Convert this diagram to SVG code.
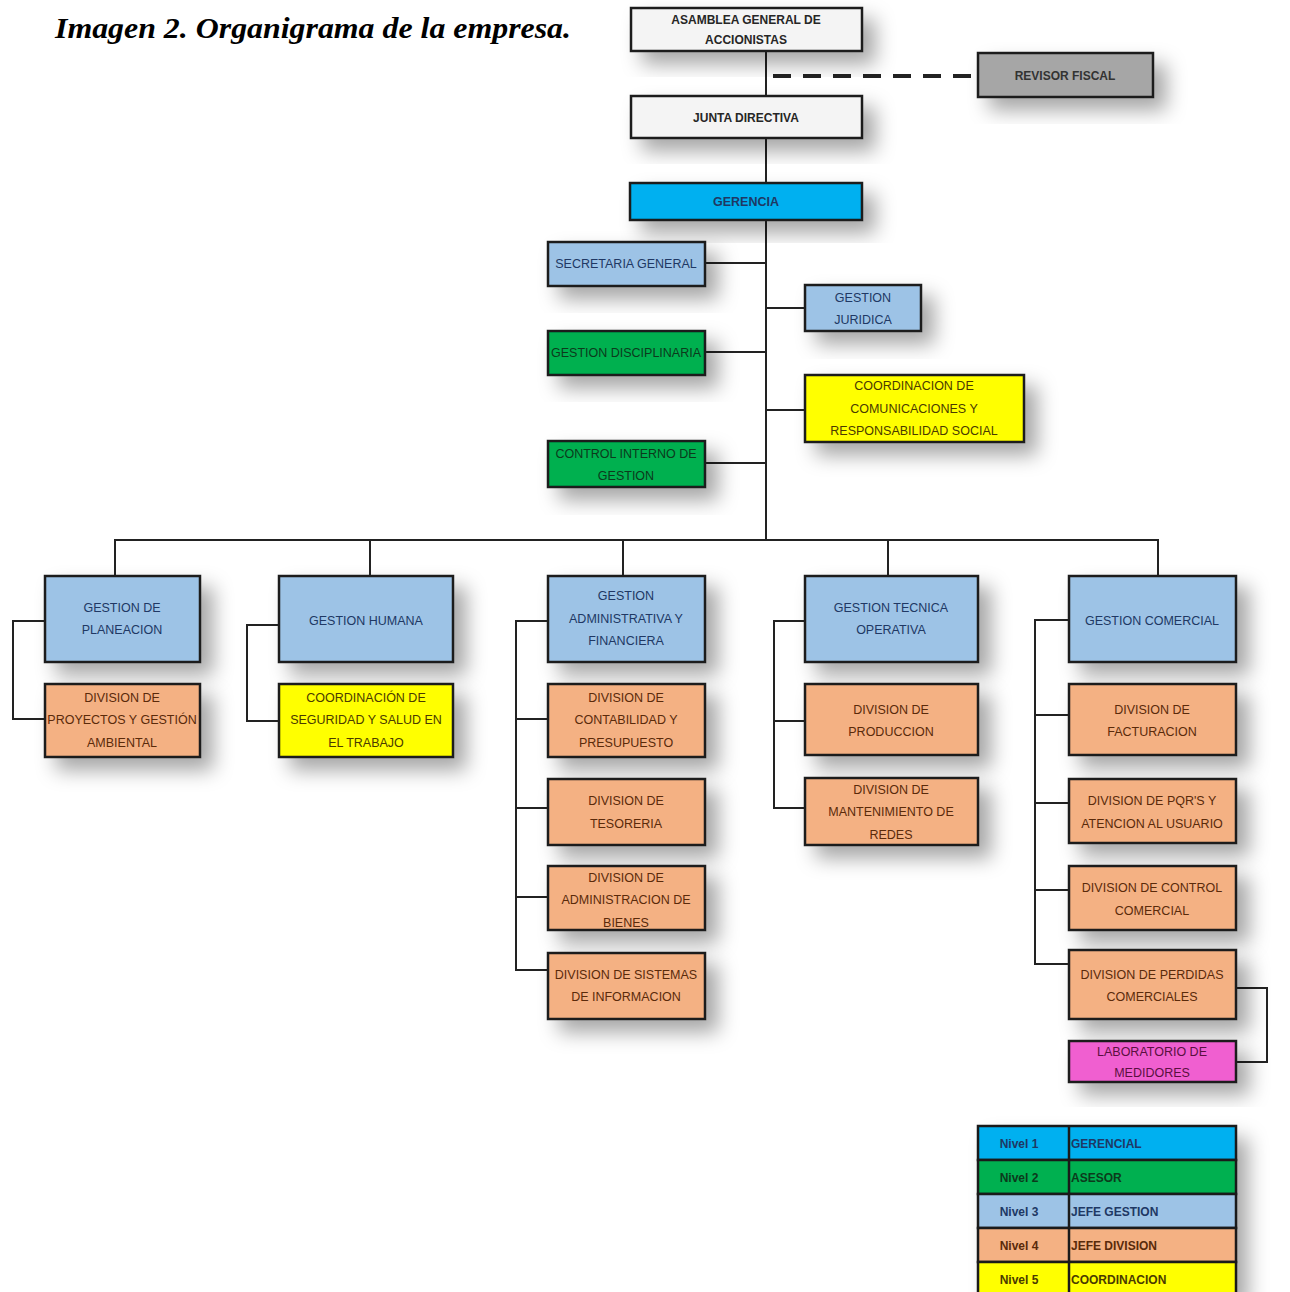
<svg xmlns="http://www.w3.org/2000/svg" width="1290" height="1292" viewBox="0 0 1290 1292">
<defs>
<filter id="sh" x="-30%" y="-40%" width="170%" height="200%">
<feDropShadow dx="12" dy="12" stdDeviation="10" flood-color="#000" flood-opacity="0.35"/>
</filter>
<style>
.b{stroke:#1a1a1a;stroke-width:2.5;filter:url(#sh)}
.w{fill:#f4f4f4}.g{fill:#a6a6a6}.n1{fill:#00b0f0}.n2{fill:#00b050}.n3{fill:#9dc3e6}.n4{fill:#f4b183}.n5{fill:#ffff00}.m{fill:#f05fd0}
text{font-family:"Liberation Sans",Arial,sans-serif;font-size:12.5px;text-anchor:middle}
.tw{fill:#262626;font-weight:bold;font-size:12px}
.t1{fill:#1f3864;font-weight:bold}
.t2{fill:#0c3a1c}
.t3{fill:#203864}
.t4{fill:#5a2a0a}
.t5{fill:#4a3a00}
.tm{fill:#5a1040}
.c{stroke:#222;stroke-width:2;fill:none}
.lg text{font-weight:bold;font-size:12px}
</style>
</defs>
<rect width="1290" height="1292" fill="#fff"/>
<text x="55" y="38" textLength="516" lengthAdjust="spacingAndGlyphs" style="text-anchor:start;font-family:'Liberation Serif','Times New Roman',serif;font-size:30px;font-weight:bold;font-style:italic;fill:#000">Imagen 2. Organigrama de la empresa.</text>

<rect x="920" y="51" width="58" height="46" fill="#fff"/>
<rect x="1236" y="576" width="50" height="86" fill="#fff"/>

<g id="connectors">
<path class="c" d="M766 51V540"/>
<path class="c" d="M773 76H978" stroke-dasharray="18 12" style="stroke-width:4"/>
<path class="c" d="M705 263H766M766 308H805M705 352H766M766 410H805M705 463H766"/>
<path class="c" d="M115 576V540H1158V576M370 540V576M623 540V576M888 540V576"/>
<path class="c" d="M45 621H13V719H45"/>
<path class="c" d="M279 625H247V721H279"/>
<path class="c" d="M548 621H516V970H548M516 719H548M516 808H548M516 897H548"/>
<path class="c" d="M805 621H774V808H805M774 721H805"/>
<path class="c" d="M1069 620H1035V964H1069M1035 715H1069M1035 803H1069M1035 890H1069"/>
<path class="c" d="M1236 988H1267V1062H1236"/>
</g>

<g id="asamblea"><rect class="b w" x="631" y="8" width="231" height="43"/><text class="tw" x="746" y="24">ASAMBLEA GENERAL DE</text><text class="tw" x="746" y="44">ACCIONISTAS</text></g>
<g id="revisor"><rect class="b g" x="978" y="53" width="175" height="44"/><text class="tw" x="1065" y="80" style="fill:#333">REVISOR FISCAL</text></g>
<g id="junta"><rect class="b w" x="631" y="96" width="231" height="42"/><text class="tw" x="746" y="122">JUNTA DIRECTIVA</text></g>
<g id="gerencia"><rect class="b n1" x="630" y="183" width="232" height="37"/><text class="t1" x="746" y="206">GERENCIA</text></g>

<g id="secretaria"><rect class="b n3" x="548" y="242" width="157" height="44"/><text class="t3" x="626" y="268">SECRETARIA GENERAL</text></g>
<g id="juridica"><rect class="b n3" x="805" y="285" width="116" height="46"/><text class="t3" x="863" y="302">GESTION</text><text class="t3" x="863" y="324">JURIDICA</text></g>
<g id="disciplinaria"><rect class="b n2" x="548" y="331" width="157" height="44"/><text class="t2" x="626" y="357">GESTION DISCIPLINARIA</text></g>
<g id="comunicaciones"><rect class="b n5" x="805" y="375" width="219" height="67"/><text class="t5" x="914" y="390">COORDINACION DE</text><text class="t5" x="914" y="413">COMUNICACIONES Y</text><text class="t5" x="914" y="435">RESPONSABILIDAD SOCIAL</text></g>
<g id="control-interno"><rect class="b n2" x="548" y="441" width="157" height="46"/><text class="t2" x="626" y="458">CONTROL INTERNO DE</text><text class="t2" x="626" y="480">GESTION</text></g>

<g id="planeacion"><rect class="b n3" x="45" y="576" width="155" height="86"/><text class="t3" x="122" y="612">GESTION DE</text><text class="t3" x="122" y="634">PLANEACION</text></g>
<g id="humana"><rect class="b n3" x="279" y="576" width="174" height="86"/><text class="t3" x="366" y="625">GESTION HUMANA</text></g>
<g id="administrativa"><rect class="b n3" x="548" y="576" width="157" height="86"/><text class="t3" x="626" y="600">GESTION</text><text class="t3" x="626" y="623">ADMINISTRATIVA Y</text><text class="t3" x="626" y="645">FINANCIERA</text></g>
<g id="tecnica"><rect class="b n3" x="805" y="576" width="173" height="86"/><text class="t3" x="891" y="612">GESTION TECNICA</text><text class="t3" x="891" y="634">OPERATIVA</text></g>
<g id="comercial"><rect class="b n3" x="1069" y="576" width="167" height="86"/><text class="t3" x="1152" y="625">GESTION COMERCIAL</text></g>

<g id="proyectos"><rect class="b n4" x="45" y="684" width="155" height="73"/><text class="t4" x="122" y="702">DIVISION DE</text><text class="t4" x="122" y="724">PROYECTOS Y GESTIÓN</text><text class="t4" x="122" y="747">AMBIENTAL</text></g>
<g id="seguridad"><rect class="b n5" x="279" y="684" width="174" height="73"/><text class="t5" x="366" y="702">COORDINACIÓN DE</text><text class="t5" x="366" y="724">SEGURIDAD Y SALUD EN</text><text class="t5" x="366" y="747">EL TRABAJO</text></g>
<g id="contabilidad"><rect class="b n4" x="548" y="684" width="157" height="73"/><text class="t4" x="626" y="702">DIVISION DE</text><text class="t4" x="626" y="724">CONTABILIDAD Y</text><text class="t4" x="626" y="747">PRESUPUESTO</text></g>
<g id="tesoreria"><rect class="b n4" x="548" y="779" width="157" height="66"/><text class="t4" x="626" y="805">DIVISION DE</text><text class="t4" x="626" y="828">TESORERIA</text></g>
<g id="bienes"><rect class="b n4" x="548" y="866" width="157" height="64"/><text class="t4" x="626" y="882">DIVISION DE</text><text class="t4" x="626" y="904">ADMINISTRACION DE</text><text class="t4" x="626" y="927">BIENES</text></g>
<g id="sistemas"><rect class="b n4" x="548" y="953" width="157" height="66"/><text class="t4" x="626" y="979">DIVISION DE SISTEMAS</text><text class="t4" x="626" y="1001">DE INFORMACION</text></g>
<g id="produccion"><rect class="b n4" x="805" y="684" width="173" height="71"/><text class="t4" x="891" y="714">DIVISION DE</text><text class="t4" x="891" y="736">PRODUCCION</text></g>
<g id="mantenimiento"><rect class="b n4" x="805" y="778" width="173" height="67"/><text class="t4" x="891" y="794">DIVISION DE</text><text class="t4" x="891" y="816">MANTENIMIENTO DE</text><text class="t4" x="891" y="839">REDES</text></g>
<g id="facturacion"><rect class="b n4" x="1069" y="684" width="167" height="71"/><text class="t4" x="1152" y="714">DIVISION DE</text><text class="t4" x="1152" y="736">FACTURACION</text></g>
<g id="pqrs"><rect class="b n4" x="1069" y="779" width="167" height="64"/><text class="t4" x="1152" y="805">DIVISION DE PQR'S Y</text><text class="t4" x="1152" y="828">ATENCION AL USUARIO</text></g>
<g id="control-comercial"><rect class="b n4" x="1069" y="866" width="167" height="64"/><text class="t4" x="1152" y="892">DIVISION DE CONTROL</text><text class="t4" x="1152" y="915">COMERCIAL</text></g>
<g id="perdidas"><rect class="b n4" x="1069" y="950" width="167" height="69"/><text class="t4" x="1152" y="979">DIVISION DE PERDIDAS</text><text class="t4" x="1152" y="1001">COMERCIALES</text></g>
<g id="laboratorio"><rect class="b m" x="1069" y="1041" width="167" height="41"/><text class="tm" x="1152" y="1056">LABORATORIO DE</text><text class="tm" x="1152" y="1077">MEDIDORES</text></g>

<g id="legend" class="lg">
<rect x="978" y="1126" width="258" height="170" fill="#fff" style="filter:url(#sh)"/>
<rect class="n1" x="978" y="1126" width="258" height="34" stroke="#1a1a1a" stroke-width="2.5"/>
<rect class="n2" x="978" y="1160" width="258" height="34" stroke="#1a1a1a" stroke-width="2.5"/>
<rect class="n3" x="978" y="1194" width="258" height="34" stroke="#1a1a1a" stroke-width="2.5"/>
<rect class="n4" x="978" y="1228" width="258" height="34" stroke="#1a1a1a" stroke-width="2.5"/>
<rect class="n5" x="978" y="1262" width="258" height="34" stroke="#1a1a1a" stroke-width="2.5"/>
<path d="M1069 1126V1292" stroke="#1a1a1a" stroke-width="2.5"/>
<text x="1019" y="1148" fill="#1f3864">Nivel 1</text><text x="1071" y="1148" style="text-anchor:start" fill="#1f3864">GERENCIAL</text>
<text x="1019" y="1182" fill="#0c3a1c">Nivel 2</text><text x="1071" y="1182" style="text-anchor:start" fill="#0c3a1c">ASESOR</text>
<text x="1019" y="1216" fill="#203864">Nivel 3</text><text x="1071" y="1216" style="text-anchor:start" fill="#203864">JEFE GESTION</text>
<text x="1019" y="1250" fill="#5a2a0a">Nivel 4</text><text x="1071" y="1250" style="text-anchor:start" fill="#5a2a0a">JEFE DIVISION</text>
<text x="1019" y="1284" fill="#4a3a00">Nivel 5</text><text x="1071" y="1284" style="text-anchor:start" fill="#4a3a00">COORDINACION</text>
</g>
</svg>
